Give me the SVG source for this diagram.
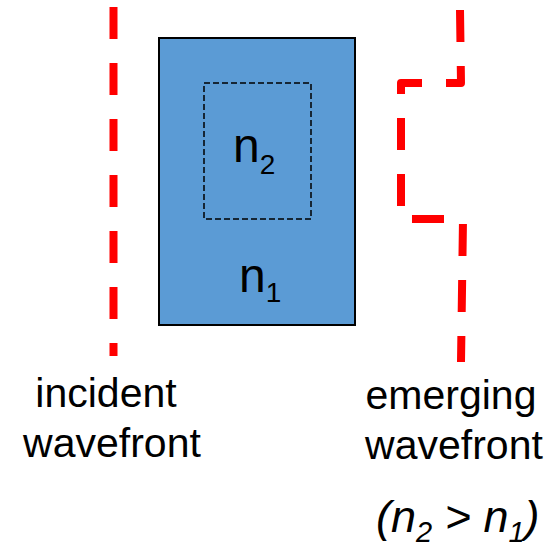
<svg xmlns="http://www.w3.org/2000/svg" width="552" height="548" viewBox="0 0 552 548">
<style>
.wave{fill:none;stroke:#FF0000;stroke-width:8;stroke-dasharray:32 24;stroke-linejoin:round;stroke-linecap:butt}
.lbl{font-family:"Liberation Sans",Arial,sans-serif;fill:#000}
</style>
<rect width="552" height="548" fill="#FFFFFF"/>
<g id="medium">
<rect x="159" y="38" width="196" height="287" fill="#5B9BD5" stroke="#000" stroke-width="2"/>
<text class="lbl" x="239" y="292" font-size="48">n<tspan font-size="28" dy="10">1</tspan></text>
</g>
<g id="inclusion">
<rect x="204" y="83" width="107" height="136" fill="none" stroke="#000" stroke-width="1.5" stroke-dasharray="6 3"/>
<text class="lbl" x="233" y="162" font-size="48">n<tspan font-size="28" dy="12">2</tspan></text>
</g>
<g id="connectors">
<path class="wave" d="M113.5,7 L113.5,356"/>
<path class="wave" d="M460,10 L461,83 L401,83 L401,219 L463,219 L461,362"/>
</g>
<g id="labels">
<text class="lbl" x="106" y="407" font-size="41" text-anchor="middle">incident</text>
<text class="lbl" x="112" y="457" font-size="41" text-anchor="middle">wavefront</text>
<text class="lbl" x="451" y="409" font-size="41" text-anchor="middle">emerging</text>
<text class="lbl" x="454" y="459" font-size="41" text-anchor="middle">wavefront</text>
<text class="lbl" x="376" y="532" font-size="45" font-style="italic">(n<tspan font-size="29" dy="10">2</tspan><tspan dy="-10"> &gt; n</tspan><tspan font-size="29" dy="10">1</tspan><tspan dy="-10">)</tspan></text>
</g>
</svg>
